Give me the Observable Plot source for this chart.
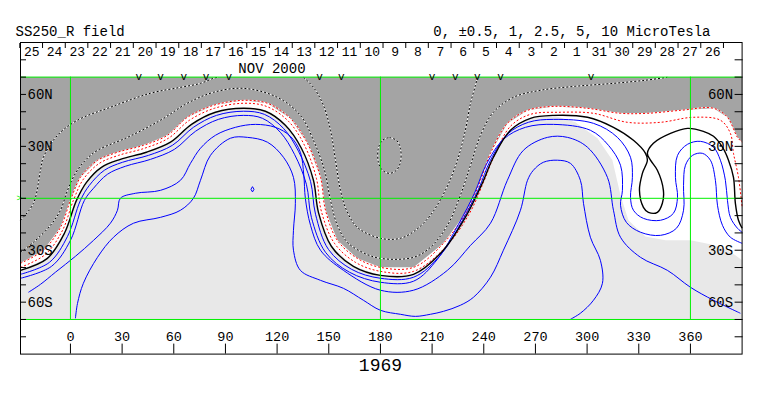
<!DOCTYPE html>
<html><head><meta charset="utf-8">
<script src="https://cdn.jsdelivr.net/npm/d3@7"></script>
<script src="https://cdn.jsdelivr.net/npm/@observablehq/plot@0.6"></script>
<style>html,body{margin:0;padding:0;background:#fff;} svg{display:block;}</style>
</head><body><div id="chart"></div>
<script>
// ---- frame / axes values ----
const lonRange = [-29, 390];
const latMap = [-70, 70];
const latFrame = [-90, 90];
const lonTicks = [0, 30, 60, 90, 120, 150, 180, 210, 240, 270, 300, 330, 360];
const latTicks = [-80, -70, -60, -50, -40, -30, -20, -10, 0, 10, 20, 30, 40, 50, 60, 70, 80];
const latLabelValues = [60, 30, -30, -60];
const latLabelTexts = ["60N", "30N", "30S", "60S"];
const gridLons = [0, 180, 360];
const gridLats = [-70, 0, 70];

const titleText = "SS250_R field";
const levelsText = "0, \u00B10.5, 1, 2.5, 5, 10 MicroTesla";
const rotationText = "1969";
const rotationCenterLon = 180;
const monthText = "NOV 2000";
const monthLon = 117;

const dayLabels = ["25","24","23","22","21","20","19","18","17","16","15","14","13","12","11","10","9","8","7","6","5","4","3","2","1","31","30","29","28","27","26"];
const dayLons = [-22.4,-9.2,4.0,17.1,30.3,43.5,56.7,69.9,83.0,96.2,109.4,122.6,135.8,148.9,162.1,175.3,188.5,201.7,214.8,228.0,241.2,254.4,267.6,280.7,293.9,307.1,320.3,333.5,346.6,359.8,373.0];
const markerLons = [39.7, 52.3, 65.8, 78.8, 91.9, 144.6, 157.2, 210.0, 223.5, 236.2, 249.7, 302.3];
const fieldPeak = [[105.7, 5.2]];

// ---- contour lines [lon, lat] ----
const contourR1 = [[-29,-37.5],[-15.7,-30],[-5.8,-16.8],[0,-1.2],[5.8,12.1],[15.7,21.9],[27.3,26.6],[42.4,30.6],[56.3,36.4],[67.9,46.8],[83,53.7],[100.5,56.6],[114.4,54.9],[127.7,46.2],[137.6,31.8],[145.2,12.1],[148.1,-6.9],[155,-24.3],[166.6,-34.7],[180,-39.9],[199.2,-39.9],[216.6,-26],[230.5,-6.9],[238.1,10.4],[243.9,26],[253.7,43.3],[265.4,50.8],[280.5,53.1],[300.2,52],[319.4,49.1],[335,49.1],[354.2,50.8],[373.4,52],[381.5,46.8],[387.3,35.2],[390,32.4]];
const contourR2 = [[-29,-39.9],[-14.5,-32.4],[-4.6,-18.5],[1.7,-1.2],[7.5,11],[16.8,20.2],[27.9,24.8],[43,28.9],[56.9,34.7],[69.1,45.1],[83.6,52],[100.5,54.9],[113.8,53.1],[126.6,44.5],[135.9,30.6],[142.8,11.6],[145.7,-7.5],[153.3,-26],[165.5,-37],[180,-42.2],[199.2,-42.2],[217.7,-28.3],[231.7,-8.7],[239.8,9.2],[246.2,24.8],[255.5,41.6],[267.1,48.5],[284.5,49.7],[303.7,49.1],[323.4,43.9],[342.6,43.9],[361.7,46.8],[377.4,45.1],[383.2,37.5],[385,26],[387.9,12.1],[390,-5.2]];
const contourK = [[-29,-41.6],[-13.4,-34.7],[-3.5,-20.2],[3.5,-1.2],[9.3,9.2],[18,17.9],[29,22.5],[44.1,26.6],[58.1,32.4],[70.3,42.7],[84.2,49.7],[100.5,52],[113.2,50.3],[124.8,42.2],[134.1,28.9],[141.1,10.4],[144,-8.1],[151.5,-27.7],[164.3,-39.3],[180,-44.5],[199.2,-43.9],[216,-30.6],[229.3,-11],[238.6,7.5],[245.6,23.7],[255.5,39.3],[267.1,46.2],[280.5,47.9],[300.2,46.8],[315.3,41],[326.9,33.5],[333.9,26],[335,22],[332.1,14.4],[330.4,4.6],[332.7,-5.2],[335.6,-8.1],[340.8,-8.1],[343.7,-2.9],[344.3,4.6],[340.8,16.2],[336.8,22],[335,26],[338.5,31.8],[348.4,37.5],[358.3,40.4],[367.5,38.7],[373.4,35.8],[378.6,29.5],[382.1,22],[385,12.1],[386.1,-2.9],[387.9,-12.7],[390,-17.3]];
const contourB1 = [[-29,-43.9],[-12.2,-37],[-1.7,-22],[5.8,-1.2],[11,7.5],[19.7,16.2],[30.2,20.8],[45.3,24.8],[59.2,30.6],[71.4,41],[84.8,47.9],[100.5,50.3],[112.6,48.5],[123.7,40.4],[132.4,27.2],[139.4,9.8],[142.3,-9.2],[149.8,-29.5],[163.2,-41],[180,-46.2],[199.2,-45.6],[214.8,-32.9],[227.6,-12.7],[236.9,5.2],[243.9,22],[253.7,37],[265.9,43.9],[280.5,45.6],[303.7,43.3],[317.6,35.2],[325.2,23.7],[326.3,12.1],[325.2,0.6],[326.9,-6.9],[332.7,-11.6],[342.6,-12.7],[350.1,-8.7],[352.5,0.6],[351.3,12.1],[352.5,24.8],[358.3,31.2],[365.8,32.9],[373.4,29.5],[377.4,22],[380.3,10.4],[381.5,-1.2],[383.2,-11],[387.3,-17.3],[390,-19.6]];
const contourB2 = [[-29,-46.2],[-11,-39.3],[0,-24.3],[8.1,-1.2],[13.4,5.8],[21.5,13.9],[31.9,18.5],[46.5,22.5],[60.4,28.3],[72.6,38.7],[85.9,45.6],[100.5,47.9],[111.5,46.2],[121.9,38.1],[130.1,25.4],[137,8.1],[139.9,-11],[148.1,-31.2],[162,-42.7],[180,-48.5],[199.2,-47.9],[213.1,-35.2],[225.3,-15],[234.6,2.9],[241.5,19.6],[251.4,34.1],[264.2,41],[280.5,42.7],[301.9,39.3],[312.4,30.6],[319.4,19.1],[320.5,4.6],[319.4,-4],[322.8,-13.9],[331,-19.6],[342.6,-21.4],[351.9,-17.3],[356,-6.9],[356,7.5],[357.1,19.1],[361.2,24.8],[366.9,26],[371.6,22],[374.5,10.4],[375.7,-4],[378.6,-15.6],[383.2,-22.5],[390,-26]];
const contourB3 = [[-24.4,-54.3],[-17.4,-49.7],[-8.7,-42.7],[2.9,-33.5],[13.4,-24.3],[23.2,-14.4],[27.3,-6.9],[29,0],[37.7,2.9],[52.3,4.6],[63.9,10.4],[69.7,20.2],[75.5,28.9],[84.2,36.4],[95.8,41],[107.4,42.7],[119,41],[127.7,35.8],[133.5,26.6],[135.5,13.3],[136.4,0],[139.4,-15.6],[145.2,-30],[158.5,-41.6],[180,-53.1],[199.2,-53.1],[218.9,-41.6],[232.3,-27.2],[243.9,-14.4],[253.7,10.4],[263,27.7],[277,35.2],[288.6,35.2],[300.2,29.5],[311.8,12.1],[315.3,-6.9],[319.4,-22.5],[331,-34.1],[346.6,-41.6],[360,-51.4],[373.4,-58.9],[389,-66.4]];
const contourB4 = [[2.9,-69.3],[4.1,-60.7],[7.5,-49.1],[15.7,-34.1],[25,-22.5],[36.6,-14.4],[52.3,-11],[63.9,-6.9],[71.4,0],[75.5,10.4],[81.3,24.8],[92.9,34.7],[102.8,35.2],[114.4,32.4],[123.7,23.7],[129.5,12.1],[130.6,-2.9],[129.5,-18.5],[129.5,-30],[133.5,-41.6],[145.2,-47.4],[158.5,-52],[170.1,-58.9],[180,-64.7],[191.6,-67],[200.3,-68.2],[209,-67],[216.6,-65.3],[226.4,-61.8],[234,-57.2],[243.9,-45.6],[251.4,-30],[261.3,-6.9],[265.4,10.4],[268.8,16.2],[274.6,20.8],[282.8,22],[290.3,20.2],[296.1,10.4],[297.9,-2.9],[301.9,-22.5],[307.7,-35.8],[308.9,-49.1],[303.7,-58.9],[296.1,-66.4],[290.3,-69.9]];
const contourD1 = [[-29,-12.7],[-21.5,-2.9],[-17.4,16.2],[-15.7,23.7],[-7.5,36.4],[4.1,45.1],[23.2,52.6],[46.5,60.7],[63.9,64.1],[75.5,66.4],[83,69.3],[85.4,69.9]];
const contourD2 = [[-29,-31.2],[-21.5,-25.4],[-11.6,-15.6],[-5.8,-6.9],[-1.7,4.6],[2.9,14.4],[8.7,22],[15.7,27.7],[33.1,35.2],[52.3,45.1],[67.9,54.9],[83,61.2],[100.5,63.5],[120.2,58.3],[133.5,47.9],[141.1,33.5],[147.5,16.2],[151,-1.2],[155,-15.6],[160.8,-25.4],[169.5,-31.2],[180,-34.7],[199.2,-34.1],[209,-28.3],[218.9,-15.6],[226.4,1.7],[232.3,19.1],[238.1,36.4],[245.6,49.7],[257.2,58.3],[272.9,62.4],[293.2,64.7],[315.3,66.4],[333.9,68.2],[346.6,69.9]];
const contourD3 = [[135.3,69.9],[141.1,64.1],[146.9,53.7],[151,39.3],[153.9,22],[156.8,4.6],[160.3,-6.9],[166.6,-16.8],[180,-23.1],[191.6,-23.1],[200.3,-18.5],[209,-9.8],[217.7,4.6],[224.7,22],[229.3,39.3],[232.3,54.9],[235.2,65.3],[236.3,69.9]];
const contourD4 = [[185.2,35.2],[189.3,33.5],[191.6,28.9],[191.6,20.8],[189.3,16.2],[185.2,14.4],[181.2,16.2],[178.8,20.8],[178.8,28.9],[181.2,33.5],[185.2,35.2]];
const whiteEdgeEast = [[293.2,43.9],[306,34.7],[314.7,22],[319.4,1.7],[324,-12.7],[333.9,-22],[345.5,-24.3],[360,-24.3],[371.6,-26.6],[380.3,-29.5],[386.1,-32.9],[390,-35.8]];

// ---- derived shapes ----
const [lonMin, lonMax] = lonRange;
const darkPoly = [[lonMin, latMap[1]], ...contourR1, [lonMax, latMap[1]]];
const whiteEdge = [...contourK.filter(d => d[0] <= 281), ...whiteEdgeEast];
const whitePoly = [[lonMin, latMap[1]], ...whiteEdge, [lonMax, latMap[1]]];
const dayBounds = dayLons.map(d => d - 7).concat([dayLons[dayLons.length - 1] + 13.18 - 7]);

const GREEN = "#00f000", BLUE = "#0000ff", RED = "#ff0000";
const DARK = "#a4a4a4", LIGHT = "#e8e8e8";
const FONT = "Liberation Mono";
const P = {x: d => d[0], y: d => d[1]};
const solid = (data, stroke, w = 1) => Plot.line(data, {...P, stroke, strokeWidth: w, curve: "catmull-rom", strokeLinecap: "butt"});
const dotted = (data, stroke, under) => [
  under ? Plot.line(data, {...P, stroke: under, strokeWidth: 1, curve: "catmull-rom"}) : null,
  Plot.line(data, {...P, stroke, strokeWidth: 1, strokeDasharray: "2,2", strokeLinecap: "butt", curve: "catmull-rom"})
];

const chart = Plot.plot({
  width: 763, height: 396,
  marginLeft: 20, marginRight: 21.4, marginTop: 42, marginBottom: 42.4,
  x: {domain: lonRange},
  y: {domain: latFrame},
  style: {fontFamily: FONT, background: "white", color: "black", overflow: "visible"},
  marks: [
    Plot.rect([latMap], {x1: () => lonMin, x2: () => lonMax, y1: d => d[0], y2: d => d[1], fill: LIGHT}),
    Plot.line(whitePoly, {...P, fill: "white", stroke: "none"}),
    Plot.line(darkPoly, {...P, fill: DARK, stroke: "none"}),
    dotted(contourD1, "black", "white"),
    dotted(contourD2, "black", "white"),
    dotted(contourD3, "black", "white"),
    dotted(contourD4, "black", "white"),
    dotted(contourR1, RED, "white"),
    dotted(contourR2, RED, null),
    solid(contourB4, BLUE),
    solid(contourB3, BLUE),
    solid(contourB2, BLUE),
    solid(contourB1, BLUE),
    solid(contourK, "black", 1.4),
    Plot.dot(fieldPeak, {...P, r: 1.6, symbol: "diamond", stroke: BLUE, strokeWidth: 1}),
    Plot.ruleX(gridLons, {y1: latMap[0], y2: latMap[1], stroke: GREEN, strokeWidth: 1}),
    Plot.ruleY(gridLats, {stroke: GREEN, strokeWidth: 1}),
    Plot.text([0], {y: d => d, text: () => ">", frameAnchor: "left", dx: -4, fill: GREEN, fontSize: 9}),
    Plot.frame({stroke: "black", strokeWidth: 1}),
    Plot.axisY(latTicks, {anchor: "left", tickSize: 6, dx: 6, tickFormat: () => "", label: null}),
    Plot.axisY(latTicks, {anchor: "right", tickSize: 8, dx: -8, tickFormat: () => "", label: null}),
    Plot.axisX(lonTicks, {anchor: "bottom", tickSize: 10, dy: -10, tickFormat: () => "", label: null}),
    Plot.axisX(dayBounds, {anchor: "top", tickSize: 5, dy: 5, tickFormat: () => "", label: null}),
    Plot.text(latLabelValues, {y: d => d, text: (d, i) => latLabelTexts[i], frameAnchor: "left", dx: 7, textAnchor: "start", fontSize: 14, fontFamily: FONT}),
    Plot.text(latLabelValues, {y: d => d, text: (d, i) => latLabelTexts[i], frameAnchor: "right", dx: -9, textAnchor: "end", fontSize: 14, fontFamily: FONT}),
    Plot.text(lonTicks, {x: d => d, text: d => String(d), frameAnchor: "bottom", dy: -13, fontSize: 13.5, fontFamily: FONT}),
    Plot.text(dayLons, {x: d => d, text: (d, i) => dayLabels[i], frameAnchor: "top", dy: 4.5, fontSize: 13, fontFamily: FONT}),
    Plot.text([monthLon], {x: d => d, text: () => monthText, frameAnchor: "top", dy: 20.5, fontSize: 14, fontFamily: FONT}),
    Plot.text(markerLons, {x: d => d, text: () => "v", frameAnchor: "top", dy: 30, fontSize: 11, fontFamily: FONT}),
    Plot.text([rotationCenterLon], {x: d => d, text: () => rotationText, frameAnchor: "bottom", dy: 17, fontSize: 18, fontFamily: FONT}),
    Plot.text([titleText], {text: d => d, frameAnchor: "top-left", dx: -5, dy: -16, textAnchor: "start", fontSize: 14, fontFamily: FONT}),
    Plot.text([levelsText], {text: d => d, frameAnchor: "top-right", dx: -31.6, dy: -16, textAnchor: "end", fontSize: 14, fontFamily: FONT})
  ]
});
document.getElementById("chart").appendChild(chart);
</script></body></html>
